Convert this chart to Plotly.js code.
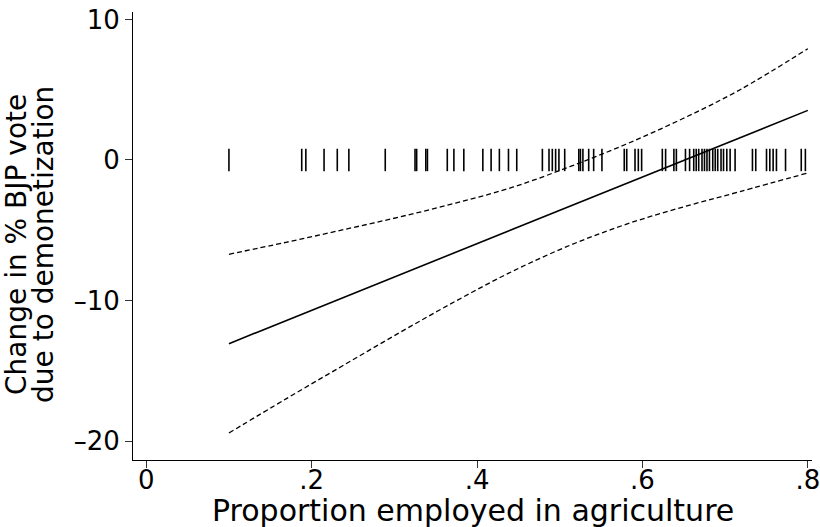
<!DOCTYPE html>
<html><head><meta charset="utf-8">
<script src="https://cdn.plot.ly/plotly-3.0.1.min.js"></script>
<style>
html,body{margin:0;padding:0;background:#fff}
#chart{width:820px;height:527px}
</style>
</head><body><div id="chart"></div>
<script>
// Fitted line (marginal effect) and 95% CI
const fitX = [0.1, 0.8];
const fitY = [-13.07, 3.53];
const ciX = [0.100, 0.169, 0.237, 0.306, 0.374, 0.443, 0.512, 0.580, 0.649, 0.718, 0.800];
const ciUpper = [-6.71, -5.86, -4.98, -4.06, -3.07, -1.94, -0.48, 1.12, 2.95, 5.00, 7.92];
const ciLower = [-19.43, -17.00, -14.66, -12.30, -10.05, -7.92, -6.08, -4.58, -3.35, -2.25, -0.92];
// Rug: observed values of proportion employed in agriculture
const rugX = [0.100, 0.188, 0.193, 0.215, 0.231, 0.245, 0.289,
  0.325, 0.327, 0.338, 0.340, 0.364, 0.372, 0.384, 0.407, 0.417, 0.427, 0.438, 0.448,
  0.479, 0.487, 0.491, 0.495, 0.499, 0.506, 0.523, 0.525, 0.528, 0.535, 0.541, 0.551,
  0.578, 0.581, 0.591, 0.595, 0.599, 0.624, 0.628, 0.638, 0.641,
  0.652, 0.657, 0.662, 0.665, 0.668, 0.672, 0.675, 0.678, 0.681, 0.685, 0.688, 0.691,
  0.695, 0.698, 0.702, 0.706, 0.712, 0.733, 0.737, 0.750, 0.754, 0.758, 0.762, 0.773,
  0.792, 0.797];
const rugLevel = 0;
const xTickVals = [0, 0.2, 0.4, 0.6, 0.8];
const xTickText = ['0', '.2', '.4', '.6', '.8'];
const yTickVals = [-20, -10, 0, 10];
const yTickText = ['\u201320', '\u201310', '0', '10'];
const yTitleLines = ['Change in % BJP vote', 'due to demonetization'];
const xTitle = 'Proportion employed in agriculture';

const font = 'DejaVu Sans, Liberation Sans, sans-serif';
const tickFs = 26;
const titleFs = 28;
const traces = [
  {x: rugX, y: rugX.map(() => rugLevel), type: 'scatter', mode: 'markers',
   marker: {symbol: 'line-ns', size: 16, color: 'black', line: {width: 1.6, color: 'black'}},
   hoverinfo: 'x'},
  {x: ciX, y: ciUpper, type: 'scatter', mode: 'lines',
   line: {color: 'black', width: 1.3, dash: '5px,3px', shape: 'spline'}},
  {x: ciX, y: ciLower, type: 'scatter', mode: 'lines',
   line: {color: 'black', width: 1.3, dash: '5px,3px', shape: 'spline'}},
  {x: fitX, y: fitY, type: 'scatter', mode: 'lines',
   line: {color: 'black', width: 1.6}}
];
const layout = {
  width: 820, height: 527,
  margin: {l: 133, r: 8, t: 12, b: 67},
  paper_bgcolor: 'white', plot_bgcolor: 'white',
  showlegend: false,
  font: {family: font, color: 'black', size: tickFs},
  xaxis: {
    range: [-0.016, 0.805], tickvals: xTickVals, ticktext: xTickText,
    ticks: 'outside', ticklen: 7, tickcolor: '#333', tickwidth: 1,
    ticklabeloverflow: 'allow', ticklabelstandoff: -10,
    showline: true, linecolor: 'black', linewidth: 1,
    showgrid: false, zeroline: false,
    tickfont: {family: font, size: tickFs, color: 'black'},
    title: {text: ''}
  },
  yaxis: {
    range: [-21.35, 10.53], tickvals: yTickVals, ticktext: yTickText,
    ticks: 'outside', ticklen: 7, tickcolor: '#333', tickwidth: 1,
    ticklabeloverflow: 'allow',
    showline: true, linecolor: 'black', linewidth: 1,
    showgrid: false, zeroline: false,
    tickfont: {family: font, size: tickFs, color: 'black'},
    title: {text: ''}
  },
  annotations: yTitleLines.map((t, i) => ({
    text: t, textangle: -90, showarrow: false,
    xref: 'paper', yref: 'paper', x: 0, y: 0.48,
    xanchor: 'center', yanchor: 'middle',
    xshift: i === 0 ? -116 : -89,
    font: {family: font, size: titleFs, color: 'black'}
  })).concat([{
    text: xTitle, showarrow: false,
    xref: 'paper', yref: 'paper', x: 0.5, y: 0,
    xanchor: 'center', yanchor: 'middle', yshift: -50,
    font: {family: font, size: titleFs + 2, color: 'black'}
  }])
};
Plotly.newPlot('chart', traces, layout, {displayModeBar: false, staticPlot: true});
</script>
</body></html>
